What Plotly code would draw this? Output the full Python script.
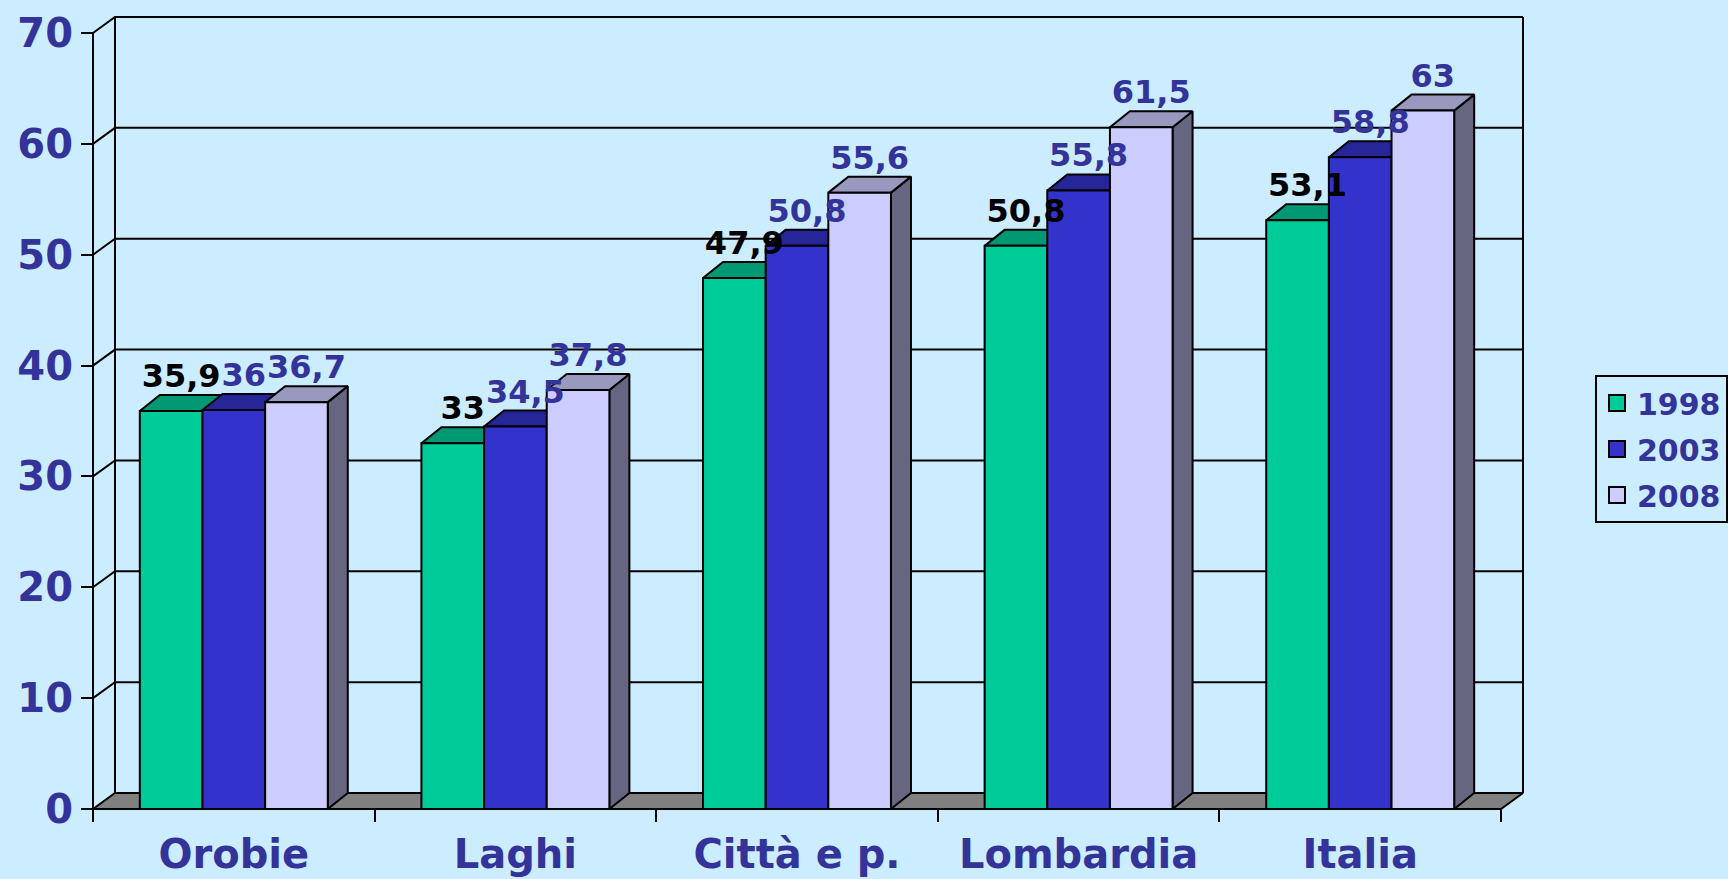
import plotly.graph_objects as go

# ---------------- data ----------------
categories = ["Orobie", "Laghi", "Città e p.", "Lombardia", "Italia"]
series_names = ["1998", "2003", "2008"]
values_1998 = [35.9, 33, 47.9, 50.8, 53.1]
values_2003 = [36, 34.5, 50.8, 55.8, 58.8]
values_2008 = [36.7, 37.8, 55.6, 61.5, 63]
y_ticks = [0, 10, 20, 30, 40, 50, 60, 70]

# ---------------- style ----------------
BG = "#CCECFF"
TXT = "#333399"
FONT = "DejaVu Sans"
front_cols = ["#00CC99", "#3333CC", "#CCCCFF"]
top_cols = ["#009973", "#262699", "#9999BF"]
side_cols = ["#00664D", "#1A1A66", "#666680"]
label_cols = ["#000000", TXT, TXT]
FLOOR = "#808080"

W, H = 1728, 879
# pixel geometry of the pseudo-3D frame
X0_PX, Y0_PX = 93, 809          # front-left-bottom corner
FRONT_W_PX, FRONT_H_PX = 1408, 776
WALL_DX_PX, WALL_DY_PX = 22, 16
BAR_DX_PX, BAR_DY_PX = 20, 16
PAD = 8
YMAX = 70
ncat = len(categories)

ux = FRONT_W_PX / ncat           # px per category unit
uy = FRONT_H_PX / YMAX           # px per value unit
wdx, wdy = WALL_DX_PX / ux, WALL_DY_PX / uy
bdx, bdy = BAR_DX_PX / ux, BAR_DY_PX / uy
padx, pady = PAD / ux, PAD / uy

bar_w = 0.2225
grp_off = (1 - 3 * bar_w) / 2

xr = [-padx, ncat + wdx + padx]
yr = [-pady, YMAX + wdy + pady]
plot_w = (xr[1] - xr[0]) * ux
plot_h = (yr[1] - yr[0]) * uy
ml = X0_PX - PAD
mt = Y0_PX - FRONT_H_PX - WALL_DY_PX - PAD
mr = W - ml - plot_w
mb = H - mt - plot_h

fig = go.Figure()

# legend-only traces
for j, nm in enumerate(series_names):
    fig.add_trace(go.Scatter(x=[None], y=[None], mode="markers", name=nm, legendgroup=nm,
                             marker=dict(symbol="square", size=17, color=front_cols[j],
                                         line=dict(color="black", width=2)),
                             hoverinfo="skip"))

# walls: gridlines
gx, gy = [], []
for v in y_ticks:
    if v == 0:
        continue
    gx += [0, wdx, ncat + wdx, None]
    gy += [v, v + wdy, v + wdy, None]
# vertical edges
gx += [0, 0, None, wdx, wdx, None, ncat + wdx, ncat + wdx, None]
gy += [0, YMAX, None, wdy, YMAX + wdy, None, wdy, YMAX + wdy, None]
fig.add_trace(go.Scatter(x=gx, y=gy, mode="lines", line=dict(color="black", width=2),
                         showlegend=False, hoverinfo="skip"))

# floor
fig.add_trace(go.Scatter(x=[0, ncat, ncat + wdx, wdx, 0], y=[0, 0, wdy, wdy, 0],
                         mode="lines", fill="toself", fillcolor=FLOOR,
                         line=dict(color="black", width=2), showlegend=False, hoverinfo="skip"))

all_vals = [values_1998, values_2003, values_2008]


def poly_trace(xs, ys, col):
    return go.Scatter(x=xs, y=ys, mode="lines", fill="toself", fillcolor=col,
                      line=dict(color="black", width=2), showlegend=False, hoverinfo="skip")


for j, vals in enumerate(all_vals):
    sx, sy, tx, ty, fx, fy = [], [], [], [], [], []
    for i, v in enumerate(vals):
        xl = i + grp_off + j * bar_w
        xrr = xl + bar_w
        sx += [xrr, xrr + bdx, xrr + bdx, xrr, xrr, None]
        sy += [0, bdy, v + bdy, v, 0, None]
        tx += [xl, xrr, xrr + bdx, xl + bdx, xl, None]
        ty += [v, v, v + bdy, v + bdy, v, None]
        fx += [xl, xrr, xrr, xl, xl, None]
        fy += [0, 0, v, v, 0, None]
    fig.add_trace(poly_trace(sx, sy, side_cols[j]))
    fig.add_trace(poly_trace(tx, ty, top_cols[j]))
    fig.add_trace(poly_trace(fx, fy, front_cols[j]))

# value labels
for j, vals in enumerate(all_vals):
    lx = [i + grp_off + j * bar_w + bar_w / 2 + bdx / 2 for i in range(ncat)]
    ly = [v + bdy for v in vals]
    lt = [f"{v:g}".replace(".", ",") for v in vals]
    fig.add_trace(go.Scatter(x=lx, y=ly, mode="text", text=lt, textposition="top center",
                             textfont=dict(family=FONT, size=32, color=label_cols[j], weight="bold"),
                             showlegend=False, hoverinfo="skip", cliponaxis=False))

fig.update_layout(
    width=W, height=H,
    margin=dict(l=ml, r=mr, t=mt, b=mb, pad=0, autoexpand=False),
    paper_bgcolor=BG, plot_bgcolor=BG,
    font=dict(family=FONT, color=TXT),
    showlegend=True,
    legend=dict(x=(1595 - ml) / plot_w, y=(Y0_PX + PAD - 375) / plot_h,
                xanchor="left", yanchor="top",
                bgcolor=BG, bordercolor="black", borderwidth=2,
                font=dict(family=FONT, size=30, color=TXT, weight="bold"),
                itemwidth=30, tracegroupgap=4, traceorder="grouped"),
    xaxis=dict(range=xr, showgrid=False, zeroline=False, showline=False,
               anchor="free", position=PAD / plot_h,
               tickmode="array", tickvals=[i + 0.5 for i in range(ncat)], ticktext=categories,
               ticks="", tickfont=dict(family=FONT, size=40, color=TXT, weight="bold"),
               ticklabelstandoff=18,
               minor=dict(tickmode="linear", tick0=0, dtick=1, ticks="outside", ticklen=12,
                          tickcolor="black", tickwidth=2, showgrid=False)),
    yaxis=dict(range=yr, showgrid=False, zeroline=False, showline=False,
               anchor="free", position=PAD / plot_w,
               tickmode="array", tickvals=y_ticks,
               ticks="outside", ticklen=12, tickcolor="black", tickwidth=2,
               tickfont=dict(family=FONT, size=40, color=TXT, weight="bold")),
)

fig.write_html("out.html", config={"displayModeBar": False},
               post_script="document.body.style.margin='0';document.body.style.overflow='hidden';")
